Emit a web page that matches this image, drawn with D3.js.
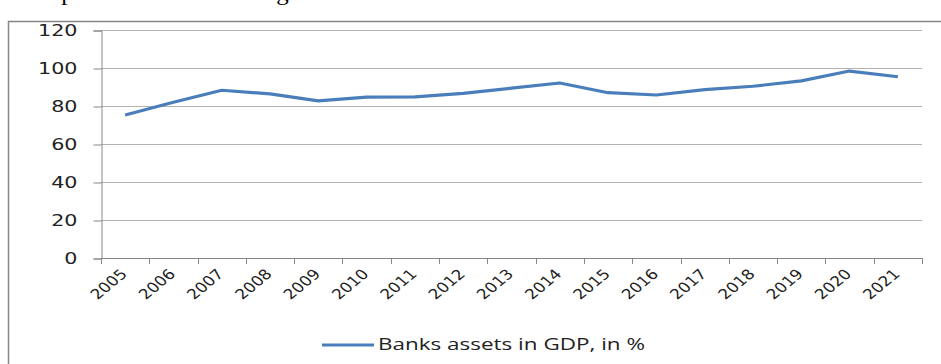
<!DOCTYPE html>
<html>
<head>
<meta charset="utf-8">
<script src="https://cdn.jsdelivr.net/npm/d3@7"></script>
<style>
  body { margin: 0; background: #fff; }
  svg { display: block; }
</style>
</head>
<body>
<div id="chart"></div>
<script>
// data
const years = ["2005", "2006", "2007", "2008", "2009", "2010", "2011", "2012", "2013",
    "2014", "2015", "2016", "2017", "2018", "2019", "2020", "2021"];
const bankAssets = [75.3, 82, 88.3, 86.4, 82.7, 84.7, 84.8, 86.6, 89.4,
    92.1, 87, 85.8, 88.6, 90.4, 93.2, 98.4, 95.4];
const yTicks = [0, 20, 40, 60, 80, 100, 120];
const seriesName = "Banks assets in GDP, in %";

const W = 941, H = 364;
const margin = {top: 30, right: 19, bottom: 106, left: 101};
const stretch = 1.38; // source picture is stretched sideways

const svg = d3.select("#chart").append("svg")
    .attr("width", W)
    .attr("height", H);

// cut-off caption above the chart frame
svg.append("text")
    .attr("x", 19)
    .attr("y", 0)
    .attr("transform", "scale(1.25,1)")
    .attr("font-family", "Liberation Serif")
    .attr("font-size", 20)
    .attr("fill", "#000")
    .text("Graph 1: Share of banking");

// chart frame (only left and top edges are inside the picture)
svg.append("rect")
    .attr("x", 8.5)
    .attr("y", 21.5)
    .attr("width", W + 20)
    .attr("height", H + 20)
    .attr("fill", "none")
    .attr("stroke", "#868686")
    .attr("stroke-width", 1.5);

const x = d3.scaleBand()
    .domain(years)
    .range([margin.left, W - margin.right])
    .padding(0);

const y = d3.scaleLinear()
    .domain([0, 120])
    .range([H - margin.bottom, margin.top]);

// gridlines
svg.append("g")
    .selectAll("line")
    .data(yTicks.filter(d => d > 0))
    .join("line")
    .attr("x1", margin.left)
    .attr("x2", W - margin.right)
    .attr("y1", d => Math.round(y(d)) + 0.5)
    .attr("y2", d => Math.round(y(d)) + 0.5)
    .attr("stroke", "#b3b3b3")
    .attr("stroke-width", 1);

// y axis
const yAxis = d3.axisLeft(y).tickValues(yTicks).tickSize(8).tickPadding(6);
const yg = svg.append("g")
    .attr("transform", `translate(${margin.left + 0.5},0.5)`)
    .call(yAxis);
yg.select(".domain").attr("stroke", "#868686");
yg.selectAll(".tick line").attr("stroke", "#868686");
yg.selectAll(".tick text")
    .attr("font-family", "DejaVu Sans")
    .attr("font-size", 15)
    .attr("fill", "#222")
    .attr("x", null)
    .attr("dy", null)
    .attr("dominant-baseline", "central")
    .attr("transform", `translate(-24,0) scale(${stretch},1)`);

// x axis line + tick marks on the band edges
const xg = svg.append("g");
xg.append("line")
    .attr("x1", margin.left)
    .attr("x2", W - margin.right)
    .attr("y1", y(0) + 0.5)
    .attr("y2", y(0) + 0.5)
    .attr("stroke", "#868686");
xg.selectAll(".xtick")
    .data(years.concat(["end"]))
    .join("line")
    .attr("class", "xtick")
    .attr("x1", d => Math.round(d === "end" ? x.range()[1] : x(d)) + 0.5)
    .attr("x2", d => Math.round(d === "end" ? x.range()[1] : x(d)) + 0.5)
    .attr("y1", y(0))
    .attr("y2", y(0) + 6)
    .attr("stroke", "#868686");

// rotated year labels
xg.selectAll(".xlabel")
    .data(years)
    .join("text")
    .attr("class", "xlabel")
    .attr("transform", d => `translate(${x(d) + x.bandwidth() / 2 + 3},${y(0) + 17}) scale(1.22,1) rotate(-45)`)
    .attr("text-anchor", "end")
    .attr("font-family", "DejaVu Sans")
    .attr("font-size", 14)
    .attr("fill", "#222")
    .text(d => d);

// the series line
const line = d3.line()
    .x((d, i) => x(years[i]) + x.bandwidth() / 2)
    .y(d => y(d));

svg.append("path")
    .datum(bankAssets)
    .attr("d", line)
    .attr("fill", "none")
    .attr("stroke", "#4a7ebb")
    .attr("stroke-width", 3.2)
    .attr("stroke-linejoin", "round");

// legend
const lg = svg.append("g").attr("transform", "translate(322,345)");
lg.append("line")
    .attr("x1", 0)
    .attr("x2", 52)
    .attr("stroke", "#4a7ebb")
    .attr("stroke-width", 3.2);
lg.append("text")
    .attr("x", 56)
    .attr("dy", "0.35em")
    .attr("font-family", "Open Sans")
    .attr("font-size", 15.5)
    .attr("fill", "#222")
    .attr("textLength", 267)
    .attr("lengthAdjust", "spacingAndGlyphs")
    .text(seriesName);
</script>
</body>
</html>
